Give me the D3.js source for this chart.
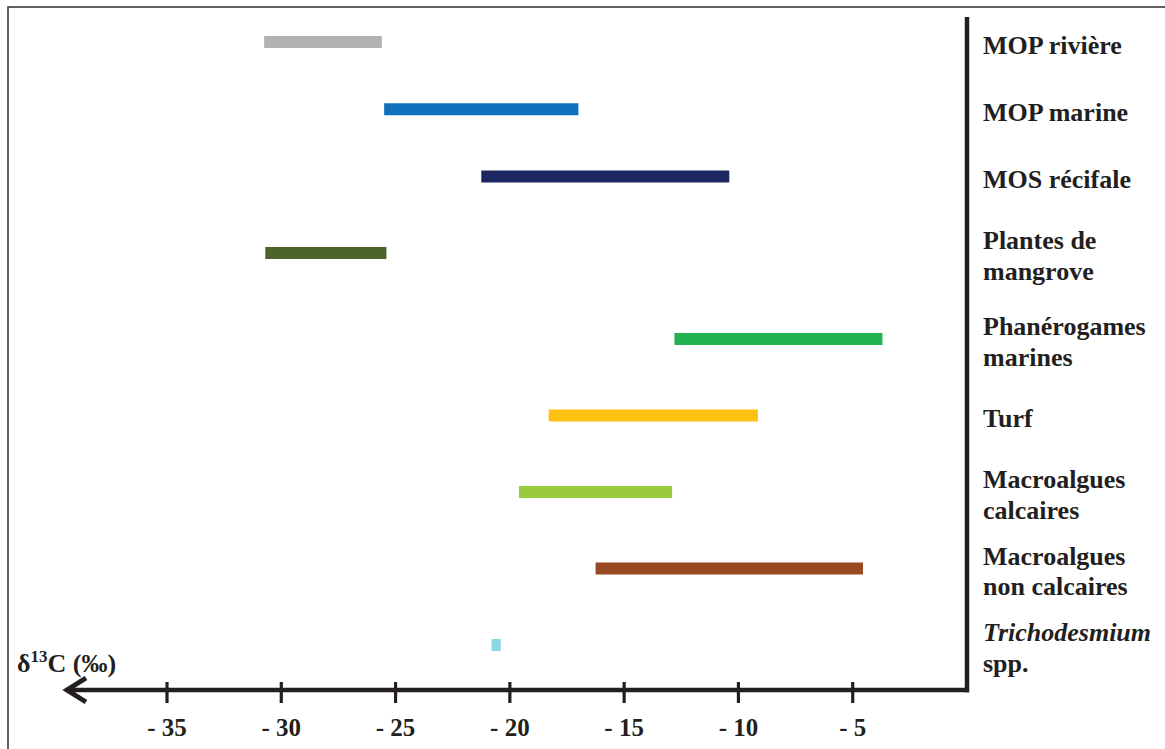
<!DOCTYPE html>
<html>
<head>
<meta charset="utf-8">
<script src="https://cdn.jsdelivr.net/npm/d3@7"></script>
<style>
  html, body { margin: 0; padding: 0; background: #fff; }
  svg { display: block; }
  text { font-family: "Liberation Serif", "Times New Roman", serif; font-weight: bold; fill: #231f20; }
</style>
</head>
<body>
<svg id="chart" width="1165" height="749"></svg>
<script>
// ---- data ----
const categories = [
  "MOP rivière", "MOP marine", "MOS récifale", "Plantes de mangrove",
  "Phanérogames marines", "Turf", "Macroalgues calcaires",
  "Macroalgues non calcaires", "Trichodesmium spp."
];
const labelLines = [
  ["MOP rivière"], ["MOP marine"], ["MOS récifale"], ["Plantes de", "mangrove"],
  ["Phanérogames", "marines"], ["Turf"], ["Macroalgues", "calcaires"],
  ["Macroalgues", "non calcaires"], ["Trichodesmium", "spp."]
];
const italicWords = ["Trichodesmium"];
const minValues = [-30.75, -25.5, -21.25, -30.7, -12.8, -18.3, -19.6, -16.25, -20.8];
const maxValues = [-25.6, -17.0, -10.4, -25.4, -3.7, -9.15, -12.9, -4.55, -20.4];
const tickValues = [-35, -30, -25, -20, -15, -10, -5];
const tickLabels = ["- 35", "- 30", "- 25", "- 20", "- 15", "- 10", "- 5"];
const palette = ["#b1b2b4", "#1170bb", "#1c2660", "#4c632a", "#21b14f", "#fdc013", "#99c93c", "#974a22", "#8dd6e5"];

// ---- layout ----
const svg = d3.select("#chart");
const axisY = 690, axisX = 967;
const x = d3.scaleLinear().domain([-35, 0]).range([167, axisX]);
const rowIndex = d3.scaleOrdinal(categories, d3.range(categories.length));
const yRow = d3.scaleLinear().domain([0, 2, 3, 4, 8]).range([42, 176.5, 253, 339, 645]);
const y = c => yRow(rowIndex(c));
const color = d3.scaleOrdinal(categories, palette);
const barH = 12;

// outer frame
svg.append("rect").attr("x", 8).attr("y", 7).attr("width", 1200).attr("height", 800)
  .attr("fill", "none").attr("stroke", "#3a3a3a").attr("stroke-width", 1.6);

// bars
const rows = categories.map((c, i) => ({ c, lo: minValues[i], hi: maxValues[i], lines: labelLines[i] }));
svg.append("g").selectAll("rect").data(rows).join("rect")
  .attr("x", d => x(d.lo))
  .attr("width", d => x(d.hi) - x(d.lo))
  .attr("y", d => y(d.c) - barH / 2)
  .attr("height", barH)
  .attr("fill", d => color(d.c));

// axes
const axisColor = "#231f20";
svg.append("line").attr("x1", 68).attr("x2", axisX + 2).attr("y1", axisY).attr("y2", axisY)
  .attr("stroke", axisColor).attr("stroke-width", 4.5);
svg.append("line").attr("x1", axisX).attr("x2", axisX).attr("y1", 17).attr("y2", axisY + 2.2)
  .attr("stroke", axisColor).attr("stroke-width", 4.5);
// arrow head
svg.append("path").attr("d", `M86,${axisY - 12} L67,${axisY} L86,${axisY + 12}`)
  .attr("fill", "none").attr("stroke", axisColor).attr("stroke-width", 5).attr("stroke-linejoin", "miter");

// ticks
const tickG = svg.append("g").selectAll("g").data(tickValues).join("g")
  .attr("transform", d => `translate(${x(d)},0)`);
tickG.append("line").attr("y1", axisY - 8).attr("y2", axisY + 13)
  .attr("stroke", axisColor).attr("stroke-width", 3.2);
tickG.append("text").attr("y", axisY + 46).attr("text-anchor", "middle")
  .style("font-size", "25px").text((d, i) => tickLabels[i]);

// axis title
const title = svg.append("text").attr("x", 17).attr("y", 672).style("font-size", "26px");
title.append("tspan").text("δ");
title.append("tspan").attr("dy", -10).style("font-size", "17px").text("13");
title.append("tspan").attr("dy", 10).text("C (‰)");

// category labels
const lineH = 30.5;
const lab = svg.append("g").selectAll("text").data(rows).join("text")
  .attr("x", 983)
  .style("font-size", "26px")
  .attr("y", d => y(d.c) + 3 + 8.6 - (d.lines.length - 1) * lineH / 2);
lab.each(function(d) {
  const t = d3.select(this);
  d.lines.forEach((ln, j) => {
    t.append("tspan").attr("x", 983).attr("dy", j === 0 ? 0 : lineH)
      .style("font-style", italicWords.includes(ln) ? "italic" : "normal")
      .text(ln);
  });
});
</script>
</body>
</html>
